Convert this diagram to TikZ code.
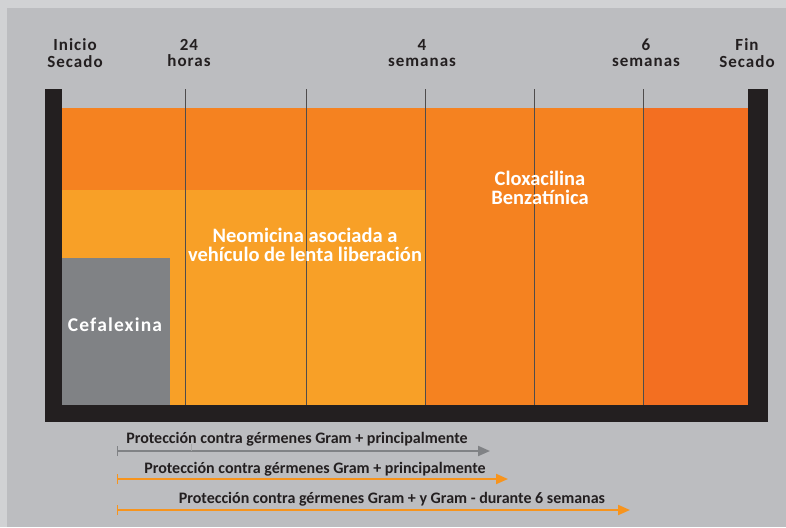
\documentclass[tikz,border=0pt]{standalone}
\usepackage{fontspec}
\setmainfont{Carlito}
\newfontfamily\spacedfont{Carlito}[LetterSpace=6]
\usetikzlibrary{arrows.meta}

\definecolor{outergrey}{HTML}{D1D2D4}
\definecolor{panelgrey}{HTML}{BCBDC0}
\definecolor{barblack}{HTML}{231F20}
\definecolor{orangemid}{HTML}{F58220}
\definecolor{orangelight}{HTML}{F8A027}
\definecolor{orangered}{HTML}{F36F21}
\definecolor{cefgrey}{HTML}{808285}
\definecolor{arroworange}{HTML}{F7941D}

\tikzset{
	headlabel/.style={align=center, inner sep=0pt, text=barblack, font=\spacedfont\bfseries\fontsize{17}{16.5}\selectfont},
	druglabel/.style={align=center, inner sep=0pt, text=white, font=\bfseries\fontsize{20.5}{19.5}\selectfont},
	protlabel/.style={anchor=base, inner sep=0pt, text=barblack, font=\bfseries\fontsize{16}{16}\selectfont},
	protarrow/.style={line width=2pt, {Bar[width=10pt,line width=1.2pt]}-{Triangle[length=12pt,width=10pt]}},
}

\begin{document}
\begin{tikzpicture}[x=1pt,y=-1pt]
	\useasboundingbox (0,0) rectangle (786,527);
	\fill[outergrey] (0,0) rectangle (786,527);
	\fill[panelgrey] (7,8) rectangle (786,527);

	% bandas de colores
	\fill[orangemid] (62,108) rectangle (643,405);
	\fill[orangelight] (62,190) rectangle (426,405);
	\fill[orangered] (643,108) rectangle (748,405);
	\fill[cefgrey] (62,258) rectangle (170,405);

	\foreach \x in {185,306,425,534,643}{
		\draw[barblack!80, line width=1pt] (\x,89) -- (\x,405);
	}

	% recipiente
	\fill[barblack] (45,89) rectangle (62,422);
	\fill[barblack] (748,89) rectangle (768,422);
	\fill[barblack] (45,405) rectangle (768,422);

	\foreach \x/\a/\b [count=\i] in {75/Inicio/Secado, 189/24/horas, 422/4/semanas, 646/6/semanas, 747/Fin/Secado}{
		\node[headlabel] (head\i) at (\x,53) {\a\\\b};
	}

	\node[druglabel] (cloxa) at (540,188) {Cloxacilina\\Benzatínica};
	\node[druglabel] (neomi) at (305,245) {Neomicina asociada a\\vehículo de lenta liberación};
	\node[druglabel, font=\spacedfont\bfseries\fontsize{19.5}{19.5}\selectfont] (cefal) at (115,325) {Cefalexina};

	% flechas de proteccion
	\coordinate (g0) at (117,451);
	\coordinate (g1) at (490,451);
	\coordinate (n0) at (117,479);
	\coordinate (n1) at (508,479);
	\coordinate (c0) at (117,510);
	\coordinate (c1) at (630,510);
	\draw[protarrow, cefgrey] (g0) -- (g1);
	\draw[cefgrey!70, line width=.6pt] (191,444) -- (191,451);
	\draw[protarrow, arroworange] (n0) -- (n1);
	\draw[protarrow, arroworange] (c0) -- (c1);
	\node[protlabel] (gtext) at (297,443) {Protección contra gérmenes Gram + principalmente};
	\node[protlabel] (ntext) at (315,473) {Protección contra gérmenes Gram + principalmente};
	\node[protlabel] (ctext) at (392,503) {Protección contra gérmenes Gram + y Gram - durante 6 semanas};
\end{tikzpicture}
\end{document}
